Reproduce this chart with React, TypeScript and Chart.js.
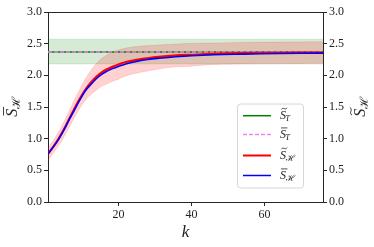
import React, { useEffect, useRef } from "react";
import { Chart, registerables } from "chart.js";

Chart.register(...registerables);

// ---- data ----
const kValues = [0.7, 2, 3.5, 5, 6.5, 8, 9.5, 11, 12.5, 14, 15.5, 17, 18.5, 20, 22, 25, 28, 31, 35, 40, 46, 54, 64, 76];
const sBarH = [0.76, 0.86, 0.98, 1.13, 1.3, 1.46, 1.62, 1.76, 1.86, 1.95, 2.02, 2.07, 2.11, 2.14, 2.18, 2.22, 2.25, 2.27, 2.29, 2.31, 2.325, 2.335, 2.345, 2.35];
const sTildeH = [0.76, 0.86, 0.99, 1.14, 1.31, 1.48, 1.64, 1.78, 1.89, 1.98, 2.05, 2.1, 2.14, 2.17, 2.21, 2.245, 2.27, 2.29, 2.31, 2.325, 2.34, 2.35, 2.355, 2.36];
const sTildeHStd = [0.1, 0.1, 0.11, 0.12, 0.13, 0.14, 0.15, 0.17, 0.19, 0.21, 0.22, 0.23, 0.23, 0.23, 0.22, 0.21, 0.2, 0.19, 0.18, 0.18, 0.17, 0.17, 0.17, 0.17];
const sTildeT = 2.37;
const sBarT = 2.37;
const sTildeTLow = 2.18;
const sTildeTHigh = 2.57;
const xRange = [0.7, 76];
const xTicks = [20, 40, 60];
const yTicks = [0, 0.5, 1, 1.5, 2, 2.5, 3];

const SERIF = "'Liberation Serif', 'DejaVu Serif', serif";
const AXIS = "#262626";

type Acc = "tilde" | "bar";

function symWidth(ctx: CanvasRenderingContext2D, sub: string, size: number) {
  ctx.font = `italic ${size}px ${SERIF}`;
  const w = ctx.measureText("S").width;
  ctx.font = sub === "H" ? `${size * 0.72}px ${SERIF}` : `italic ${size * 0.7}px ${SERIF}`;
  const ws = ctx.measureText(sub === "H" ? "\u210B" : sub).width;
  return w + ws - 0.02 * size;
}

function drawSym(ctx: CanvasRenderingContext2D, x: number, y: number, acc: Acc, sub: string, size: number, color = "#222") {
  ctx.fillStyle = color;
  ctx.strokeStyle = color;
  ctx.textAlign = "left";
  ctx.textBaseline = "alphabetic";
  ctx.font = `italic ${size}px ${SERIF}`;
  ctx.fillText("S", x, y);
  const w = ctx.measureText("S").width;
  const cx = x + w / 2 + 0.1 * size;
  const ay = y - 0.88 * size;
  ctx.lineWidth = Math.max(0.8, size * 0.055);
  ctx.beginPath();
  if (acc === "bar") {
    ctx.moveTo(x + 0.08 * size, ay + 0.04 * size);
    ctx.lineTo(x + w + 0.12 * size, ay + 0.04 * size);
  } else {
    const hw = 0.24 * size;
    const amp = 0.1 * size;
    ctx.moveTo(cx - hw, ay + amp * 0.7);
    ctx.bezierCurveTo(cx - hw * 0.4, ay - amp * 1.8, cx + hw * 0.4, ay + amp * 1.8, cx + hw, ay - amp * 0.7);
  }
  ctx.stroke();
  if (sub === "H") {
    ctx.font = `${size * 0.72}px ${SERIF}`;
    ctx.fillText("\u210B", x + w - 0.04 * size, y + 0.18 * size);
  } else {
    ctx.font = `italic ${size * 0.7}px ${SERIF}`;
    ctx.fillText(sub, x + w - 0.06 * size, y + 0.18 * size);
  }
}

const legendItems: { acc: Acc; sub: string; color: string; dash: number[]; width: number }[] = [
  { acc: "tilde", sub: "T", color: "#008000", dash: [], width: 1.5 },
  { acc: "bar", sub: "T", color: "#ee82ee", dash: [4, 2], width: 1.5 },
  { acc: "tilde", sub: "H", color: "#ff0000", dash: [], width: 2 },
  { acc: "bar", sub: "H", color: "#0000ff", dash: [], width: 1.5 },
];

const decorPlugin = {
  id: "decor",
  afterDraw(chart: any) {
    const { ctx, chartArea: ca } = chart;
    ctx.save();
    // top spine
    ctx.strokeStyle = AXIS;
    ctx.lineWidth = 1;
    ctx.beginPath();
    const ty = Math.round(ca.top) + 0.5;
    ctx.moveTo(ca.left, ty);
    ctx.lineTo(ca.right, ty);
    ctx.stroke();

    // legend
    const lx = 237.5, ly = 104, lw = 66, lh = 84, r = 3;
    ctx.beginPath();
    ctx.moveTo(lx + r, ly);
    ctx.arcTo(lx + lw, ly, lx + lw, ly + lh, r);
    ctx.arcTo(lx + lw, ly + lh, lx, ly + lh, r);
    ctx.arcTo(lx, ly + lh, lx, ly, r);
    ctx.arcTo(lx, ly, lx + lw, ly, r);
    ctx.closePath();
    ctx.fillStyle = "rgba(255,255,255,0.85)";
    ctx.fill();
    ctx.strokeStyle = "#d6d6d6";
    ctx.lineWidth = 1;
    ctx.stroke();
    const rows = [115.7, 134.5, 155.5, 175.5];
    legendItems.forEach((it, i) => {
      const y = rows[i];
      ctx.beginPath();
      ctx.setLineDash(it.dash);
      ctx.strokeStyle = it.color;
      ctx.lineWidth = it.width;
      ctx.moveTo(243, y);
      ctx.lineTo(271, y);
      ctx.stroke();
      ctx.setLineDash([]);
      drawSym(ctx, 280, y + 3.5, it.acc, it.sub, 12);
    });

    // x title
    ctx.fillStyle = "#222";
    ctx.font = `italic 17px ${SERIF}`;
    ctx.textAlign = "center";
    ctx.textBaseline = "alphabetic";
    ctx.fillText("k", (ca.left + ca.right) / 2, 237);

    // left y title
    const size = 16;
    const cy = (ca.top + ca.bottom) / 2;
    ctx.save();
    ctx.translate(17, cy);
    ctx.rotate(-Math.PI / 2);
    const tw = symWidth(ctx, "H", size);
    drawSym(ctx, -tw / 2, 0, "bar", "H", size);
    ctx.restore();

    // right y title
    ctx.save();
    ctx.translate(365, cy);
    ctx.rotate(-Math.PI / 2);
    const tw2 = symWidth(ctx, "H", size);
    drawSym(ctx, -tw2 / 2, 0, "tilde", "H", size);
    ctx.restore();

    ctx.restore();
  },
};

export default function App() {
  const ref = useRef<HTMLCanvasElement | null>(null);
  useEffect(() => {
    if (!ref.current) return;
    const pts = (ys: number[]) => kValues.map((k, i) => ({ x: k, y: ys[i] }));
    const flat = (v: number) => [{ x: xRange[0], y: v }, { x: xRange[1], y: v }];
    const redLow = sTildeH.map((v, i) => v - sTildeHStd[i]);
    const redHigh = sTildeH.map((v, i) => v + sTildeHStd[i]);
    const lineBase = { pointRadius: 0, tension: 0.4, fill: false };
    const axisFont = { family: SERIF, size: 12 };
    const yAxis = (pos: "left" | "right", w: number) => ({
      type: "linear" as const,
      position: pos,
      min: 0,
      max: 3,
      afterBuildTicks: (s: any) => {
        s.ticks = yTicks.map((v) => ({ value: v }));
      },
      afterFit: (s: any) => {
        s.width = w;
      },
      ticks: {
        color: "#222",
        font: axisFont,
        padding: 2,
        callback: (v: any) => Number(v).toFixed(1),
      },
      grid: { display: true, drawOnChartArea: false, drawTicks: true, tickLength: 4, color: AXIS, tickWidth: 1 },
      border: { display: true, color: AXIS, width: 1 },
    });
    const chart = new Chart(ref.current, {
      type: "line",
      data: {
        datasets: [
          { ...lineBase, label: "barSH", data: pts(sBarH), borderColor: "#0000ff", borderWidth: 1.6 },
          { ...lineBase, label: "tildeSH", data: pts(sTildeH), borderColor: "#ff0000", borderWidth: 2.2 },
          { ...lineBase, label: "barST", data: flat(sBarT), borderColor: "#ee82ee", borderWidth: 1.5, borderDash: [4, 2] },
          { ...lineBase, label: "tildeST", data: flat(sTildeT), borderColor: "#008000", borderWidth: 1.5 },
          { ...lineBase, label: "redLow", data: pts(redLow), borderColor: "rgba(255,0,0,0.12)", borderWidth: 1 },
          { ...lineBase, label: "redHigh", data: pts(redHigh), borderColor: "rgba(255,0,0,0.12)", borderWidth: 1, fill: "-1", backgroundColor: "rgba(255,0,0,0.18)" },
          { ...lineBase, label: "greenLow", data: flat(sTildeTLow), borderColor: "rgba(0,128,0,0.12)", borderWidth: 1 },
          { ...lineBase, label: "greenHigh", data: flat(sTildeTHigh), borderColor: "rgba(0,128,0,0.12)", borderWidth: 1, fill: "-1", backgroundColor: "rgba(0,128,0,0.16)" },
        ],
      },
      options: {
        animation: false,
        responsive: false,
        maintainAspectRatio: false,
        layout: { padding: { top: 12, left: 0, right: 0, bottom: 0 } },
        plugins: { legend: { display: false }, tooltip: { enabled: false } },
        scales: {
          x: {
            type: "linear",
            min: xRange[0],
            max: xRange[1],
            afterBuildTicks: (s: any) => {
              s.ticks = xTicks.map((v) => ({ value: v }));
            },
            afterFit: (s: any) => {
              s.height = 45;
            },
            ticks: { color: "#222", font: axisFont, padding: 2, maxRotation: 0 },
            grid: { display: true, drawOnChartArea: false, drawTicks: true, tickLength: 4, color: AXIS, tickWidth: 1 },
            border: { display: true, color: AXIS, width: 1 },
          },
          y: yAxis("left", 48),
          y2: yAxis("right", 51),
        },
      },
      plugins: [decorPlugin],
    });
    return () => chart.destroy();
  }, []);
  return (
    <div style={{ position: "fixed", left: 0, top: 0, width: 374, height: 247, background: "#fff" }}>
      <canvas ref={ref} width={374} height={247} style={{ width: 374, height: 247, display: "block" }} />
    </div>
  );
}
